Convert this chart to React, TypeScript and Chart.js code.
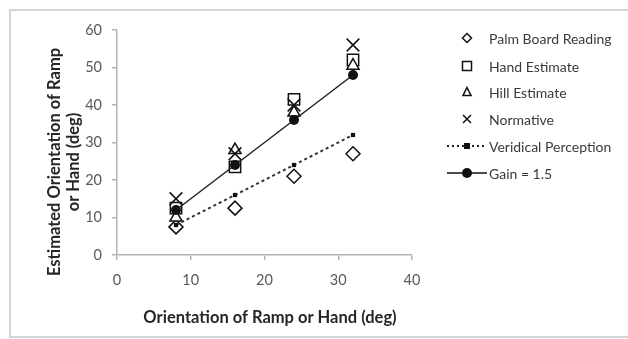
import React, { useEffect, useRef } from "react";
import { Chart, registerables } from "chart.js";

Chart.register(...registerables);

const xValues = [8, 16, 24, 32];
const palmBoard = [7.5, 12.5, 21, 27];
const handEstimate = [12.5, 23.5, 41.5, 52];
const hillEstimate = [10, 28, 38, 50.5];
const normative = [15, 27, 40, 56];
const veridical = [8, 16, 24, 32];
const gain15 = [12, 24, 36, 48];

const legendLabels = [
  "Palm Board Reading",
  "Hand Estimate",
  "Hill Estimate",
  "Normative",
  "Veridical Perception",
  "Gain = 1.5",
];
const xTitle = "Orientation of Ramp or Hand (deg)";
const yTitle = ["Estimated Orientation of Ramp", "or Hand (deg)"];

const FONT = "Lato, 'Open Sans', sans-serif";

const pts = (ys: number[]) => xValues.map((x, i) => ({ x, y: ys[i] }));

function drawMarker(ctx: CanvasRenderingContext2D, type: string, x: number, y: number, r: number) {
  ctx.save();
  ctx.strokeStyle = "#111";
  ctx.fillStyle = "#fff";
  ctx.lineWidth = 1.5;
  ctx.beginPath();
  if (type === "diamond") {
    ctx.moveTo(x, y - r);
    ctx.lineTo(x + r, y);
    ctx.lineTo(x, y + r);
    ctx.lineTo(x - r, y);
    ctx.closePath();
    ctx.fill();
    ctx.stroke();
  } else if (type === "square") {
    ctx.rect(x - r, y - r, 2 * r, 2 * r);
    ctx.fill();
    ctx.stroke();
  } else if (type === "triangle") {
    ctx.moveTo(x, y - r);
    ctx.lineTo(x + r * 0.9, y + r * 0.8);
    ctx.lineTo(x - r * 0.9, y + r * 0.8);
    ctx.closePath();
    ctx.fill();
    ctx.stroke();
  } else if (type === "cross") {
    ctx.moveTo(x - r, y - r);
    ctx.lineTo(x + r, y + r);
    ctx.moveTo(x + r, y - r);
    ctx.lineTo(x - r, y + r);
    ctx.stroke();
  }
  ctx.restore();
}

const customPlugin = {
  id: "custom",
  beforeDraw(chart: any) {
    const ctx = chart.ctx as CanvasRenderingContext2D;
    ctx.save();
    ctx.fillStyle = "#fff";
    ctx.fillRect(0, 0, chart.width, chart.height);
    ctx.strokeStyle = "#d4d4d4";
    ctx.lineWidth = 2;
    ctx.strokeRect(10, 10, 700, 327);
    ctx.restore();
  },
  afterDraw(chart: any) {
    const ctx = chart.ctx as CanvasRenderingContext2D;
    ctx.save();
    // axis titles
    ctx.fillStyle = "#262626";
    ctx.font = `bold 16.5px ${FONT}`;
    ctx.textAlign = "center";
    ctx.textBaseline = "middle";
    ctx.fillText(xTitle, 270, 318);
    ctx.save();
    ctx.translate(55, 162);
    ctx.rotate(-Math.PI / 2);
    ctx.fillText(yTitle[0], 0, 0);
    ctx.fillText(yTitle[1], 0, 19);
    ctx.restore();

    // legend
    const rowsY = [38, 66, 92, 119, 146, 173];
    const mx = 467;
    const tx = 489;
    ctx.font = `14px ${FONT}`;
    ctx.textAlign = "left";
    ctx.textBaseline = "middle";
    const types = ["diamond", "square", "triangle", "cross"];
    legendLabels.forEach((label, i) => {
      const y = rowsY[i];
      if (i < 4) {
        drawMarker(ctx, types[i], mx, y, i === 3 ? 4 : 4.5);
      } else if (i === 4) {
        ctx.save();
        ctx.strokeStyle = "#222";
        ctx.lineWidth = 2;
        ctx.setLineDash([2, 3]);
        ctx.beginPath();
        ctx.moveTo(447, y);
        ctx.lineTo(487, y);
        ctx.stroke();
        ctx.restore();
        ctx.fillStyle = "#111";
        ctx.fillRect(mx - 3, y - 3, 6, 6);
      } else {
        ctx.save();
        ctx.strokeStyle = "#111";
        ctx.lineWidth = 1.5;
        ctx.beginPath();
        ctx.moveTo(447, y);
        ctx.lineTo(487, y);
        ctx.stroke();
        ctx.fillStyle = "#111";
        ctx.beginPath();
        ctx.arc(mx, y, 5, 0, Math.PI * 2);
        ctx.fill();
        ctx.restore();
      }
      ctx.fillStyle = "#3a3a3a";
      ctx.fillText(label, tx, y + 1);
    });
    ctx.restore();
  },
};

export default function App() {
  const ref = useRef<HTMLCanvasElement>(null);
  useEffect(() => {
    if (!ref.current) return;
    const base = {
      showLine: false,
      borderColor: "#111",
      backgroundColor: "#fff",
      pointBorderWidth: 1.5,
    };
    const chart = new Chart(ref.current, {
      type: "scatter",
      data: {
        datasets: [
          { ...base, label: legendLabels[0], data: pts(palmBoard), pointStyle: "rectRot", pointRadius: 7, order: 5 },
          { ...base, label: legendLabels[1], data: pts(handEstimate), pointStyle: "rect", pointRadius: 8, order: 4 },
          { ...base, label: legendLabels[2], data: pts(hillEstimate), pointStyle: "triangle", pointRadius: 7, order: 3 },
          { ...base, label: legendLabels[3], data: pts(normative), pointStyle: "crossRot", pointRadius: 9, order: 2 },
          {
            label: legendLabels[4],
            data: pts(veridical),
            showLine: true,
            borderColor: "#333",
            borderWidth: 2,
            borderDash: [3, 3],
            backgroundColor: "#111",
            pointStyle: "rect",
            pointRadius: 3,
            pointBorderWidth: 0,
            order: 1,
          },
          {
            label: legendLabels[5],
            data: pts(gain15),
            showLine: true,
            borderColor: "#222",
            borderWidth: 1.5,
            backgroundColor: "#111",
            pointStyle: "circle",
            pointRadius: 5,
            pointBorderWidth: 0,
            order: 0,
          },
        ] as any,
      },
      options: {
        responsive: false,
        animation: false,
        devicePixelRatio: 1,
        layout: { padding: { left: 0, top: 30, right: 216, bottom: 0 } },
        plugins: { legend: { display: false }, tooltip: { enabled: false } },
        scales: {
          x: {
            type: "linear",
            min: 0,
            max: 40,
            ticks: { stepSize: 10, color: "#595959", font: { family: FONT, size: 14.5 }, padding: 12 },
            grid: { drawOnChartArea: false, color: "#b5b5b5", tickLength: 5, lineWidth: 1.5 },
            border: { color: "#b5b5b5", width: 1.5 },
            afterFit: (s: any) => {
              s.height = 84;
            },
          },
          y: {
            type: "linear",
            min: 0,
            max: 60,
            ticks: { stepSize: 10, color: "#595959", font: { family: FONT, size: 14.5 }, padding: 10 },
            grid: { drawOnChartArea: false, color: "#b5b5b5", tickLength: 5, lineWidth: 1.5 },
            border: { color: "#b5b5b5", width: 1.5 },
            afterFit: (s: any) => {
              s.width = 117;
            },
          },
        },
      } as any,
      plugins: [customPlugin],
    });
    return () => chart.destroy();
  }, []);
  return (
    <div style={{ position: "absolute", left: 0, top: 0, width: 628, height: 339 }}>
      <canvas ref={ref} width={628} height={339} />
    </div>
  );
}
